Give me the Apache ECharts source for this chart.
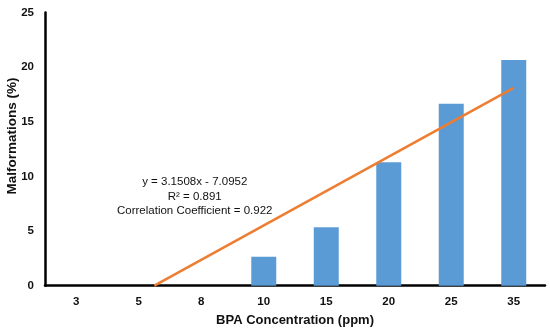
<!DOCTYPE html>
<html><head><meta charset="utf-8">
<script src="https://cdn.jsdelivr.net/npm/echarts@6/dist/echarts.min.js"></script>
<style>html,body{margin:0;padding:0;background:#fff}#c{width:550px;height:331px}</style>
</head><body><div id="c"></div>
<script>
const categories = ['3','5','8','10','15','20','25','35'];
const malformations = [0, 0, 0, 2.65, 5.35, 11.3, 16.65, 20.65];
// trendline end points (category index x, value y)
const trendX = [2.25, 8];
const trendY = [0, 18.1];
const yTicks = [0, 5, 10, 15, 20, 25];
const annotation = ['y = 3.1508x - 7.0952', 'R\u00B2 = 0.891', 'Correlation Coefficient = 0.922'];

const chart = echarts.init(document.getElementById('c'), null, {renderer: 'canvas'});
const font = 'Liberation Sans';
chart.setOption({
  animation: false,
  grid: {left: 45, right: 5, top: 12.5, bottom: 45.3, containLabel: false, outerBoundsMode: 'none'},
  xAxis: [{
    type: 'category', data: categories,
    axisLine: {lineStyle: {color: '#000', width: 2.5}},
    axisTick: {show: false},
    axisLabel: {color: '#111', fontWeight: 'bold', fontSize: 11.5, fontFamily: font, margin: 10},
    name: 'BPA Concentration (ppm)', nameLocation: 'middle', nameGap: 28, nameMoveOverlap: false,
    nameTextStyle: {color: '#111', fontWeight: 'bold', fontSize: 13, fontFamily: font}
  }, {
    type: 'value', min: 0.5, max: 8.5, show: false
  }],
  yAxis: {
    type: 'value', min: yTicks[0], max: yTicks[yTicks.length-1], interval: 5,
    axisLine: {show: true, lineStyle: {color: '#000', width: 2.5}},
    axisTick: {show: false}, splitLine: {show: false},
    axisLabel: {color: '#111', fontWeight: 'bold', fontSize: 11.5, fontFamily: font, margin: 11},
    name: 'Malformations (%)', nameLocation: 'middle', nameGap: 26, nameMoveOverlap: false,
    nameTextStyle: {color: '#111', fontWeight: 'bold', fontSize: 13.5, fontFamily: font, padding: [0, 0, 0, 26]}
  },
  series: [{
    type: 'bar', data: malformations, barWidth: 25,
    itemStyle: {color: '#5B9BD5'}
  }, {
    type: 'line', xAxisIndex: 1, data: trendX.map((x, i) => [x, trendY[i]]),
    symbol: 'none', lineStyle: {color: '#ED7D31', width: 2.5}
  }],
  graphic: [{
    type: 'text', left: 117, top: 175,
    style: {text: annotation.join('\n'), align: 'center', x: 77, textAlign: 'center',
      font: '11.5px "Liberation Sans"', fill: '#111', lineHeight: 14.3}
  }]
});
</script></body></html>
